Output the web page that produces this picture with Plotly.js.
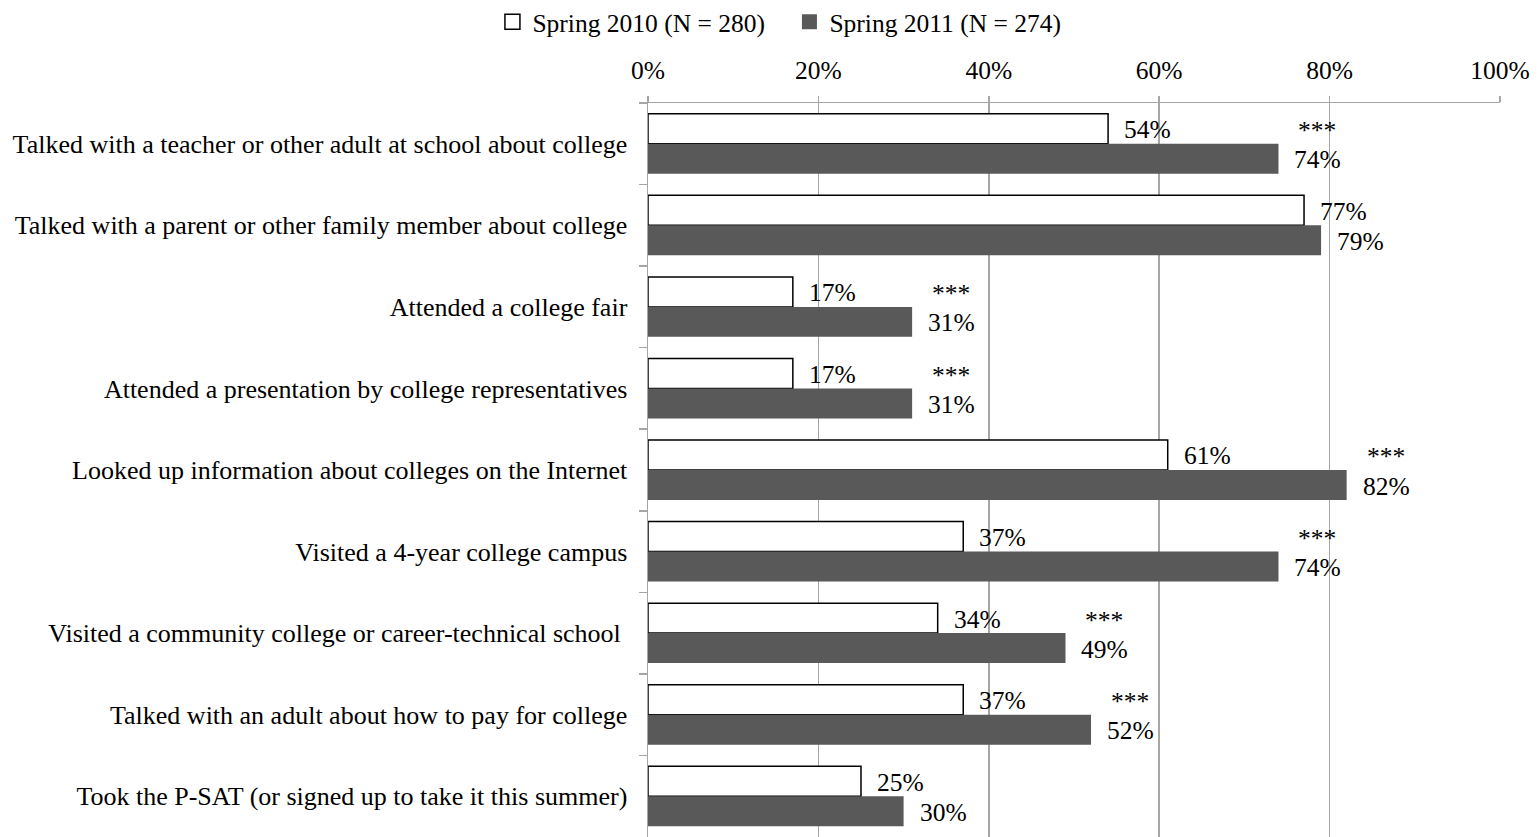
<!DOCTYPE html>
<html>
<head>
<meta charset="utf-8">
<script src="https://cdn.plot.ly/plotly-3.0.1.min.js"></script>
<style>html,body{margin:0;padding:0;background:#fff;}#chart{width:1539px;height:837px;}</style>
</head>
<body>
<div id="chart"></div>
<script>
const categories = [
  "Talked with a teacher or other adult at school about college",
  "Talked with a parent or other family member about college",
  "Attended a college fair",
  "Attended a presentation by college representatives",
  "Looked up information about colleges on the Internet",
  "Visited a 4-year college campus",
  "Visited a community college or career-technical school\u00a0",
  "Talked with an adult about how to pay for college",
  "Took the P-SAT (or signed up to take it this summer)"
];
const spring2010 = [54, 77, 17, 17, 61, 37, 34, 37, 25];
const spring2011 = [74, 79, 31, 31, 82, 74, 49, 52, 30];
const significant = [true, false, true, true, true, true, true, true, false];
const seriesNames = ["Spring 2010 (N = 280)", "Spring 2011 (N = 274)"];

const FONT = "'Liberation Serif', 'Times New Roman', Times, serif";
const FS = 25.5;
const off = 0.184;
const DARK = '#595959';

const traces = [
  {type:'bar', orientation:'h', name:seriesNames[0], y:categories, x:spring2010.map(v=>v/100), showlegend:false,
   marker:{color:'#ffffff', line:{color:'#000000', width:1.5}}, hoverinfo:'none'},
  {type:'bar', orientation:'h', name:seriesNames[1], y:categories, x:spring2011.map(v=>v/100), showlegend:false,
   marker:{color:DARK, line:{color:DARK, width:0}}, hoverinfo:'none'},
  {type:'scatter', mode:'markers', name:seriesNames[0], x:[null], y:[null], showlegend:true,
   marker:{symbol:'square', size:15, color:'#ffffff', line:{color:'#000000', width:1.5}}, hoverinfo:'none'},
  {type:'scatter', mode:'markers', name:seriesNames[1], x:[null], y:[null], showlegend:true,
   marker:{symbol:'square', size:15, color:DARK, line:{color:DARK, width:0}}, hoverinfo:'none'}
];

const annotations = [];
categories.forEach((c,i)=>{
  annotations.push({x:spring2010[i]/100, y:i-off, xref:'x', yref:'y', text:spring2010[i]+'%',
    showarrow:false, xanchor:'left', yanchor:'middle', xshift:14, yshift:-1, font:{family:FONT,size:FS,color:'#000'}});
  annotations.push({x:spring2011[i]/100, y:i+off, xref:'x', yref:'y', text:spring2011[i]+'%',
    showarrow:false, xanchor:'left', yanchor:'middle', xshift:14, yshift:-1, font:{family:FONT,size:FS,color:'#000'}});
  if (significant[i]) {
    annotations.push({x:spring2011[i]/100, y:i-off, xref:'x', yref:'y', text:'***',
      showarrow:false, xanchor:'left', yanchor:'middle', xshift:18, yshift:-2, font:{family:FONT,size:FS,color:'#000'}});
  }
});

const layout = {
  width:1539, height:837,
  margin:{l:648, r:39, t:103, b:0, autoexpand:false},
  paper_bgcolor:'#fff', plot_bgcolor:'#fff',
  font:{family:FONT, size:FS, color:'#000'},
  barmode:'group', bargap:0.265, bargroupgap:0,
  showlegend:true,
  legend:{orientation:'h', x:0.166, xanchor:'center', y:1.11, yanchor:'middle', xref:'paper', yref:'paper',
    font:{family:FONT, size:FS, color:'#000'}, itemwidth:30, entrywidth:252, entrywidthmode:'pixels', traceorder:'normal'},
  xaxis:{side:'top', range:[0,1], dtick:0.2, tick0:0, tickformat:'.0%', automargin:false,
    showgrid:true, gridcolor:'#a6a6a6', gridwidth:1.5, zeroline:false,
    showline:true, linecolor:'#a6a6a6', linewidth:1.5,
    ticks:'outside', ticklen:6, tickcolor:'#a6a6a6', tickwidth:1.5, ticklabelstandoff:6,
    tickfont:{family:FONT, size:FS, color:'#000'}, fixedrange:true},
  yaxis:{type:'category', autorange:'reversed', range:[8.5,-0.5], automargin:false,
    showgrid:false, zeroline:false, showline:true, linecolor:'#a6a6a6', linewidth:1.5,
    ticks:'outside', tickson:'boundaries', ticklen:8, tickcolor:'#a6a6a6', tickwidth:1.5, ticklabelstandoff:14,
    tickfont:{family:FONT, size:26, color:'#000'}, fixedrange:true},
  annotations:annotations
};

Plotly.newPlot('chart', traces, layout, {displayModeBar:false, staticPlot:true});
</script>
</body>
</html>
